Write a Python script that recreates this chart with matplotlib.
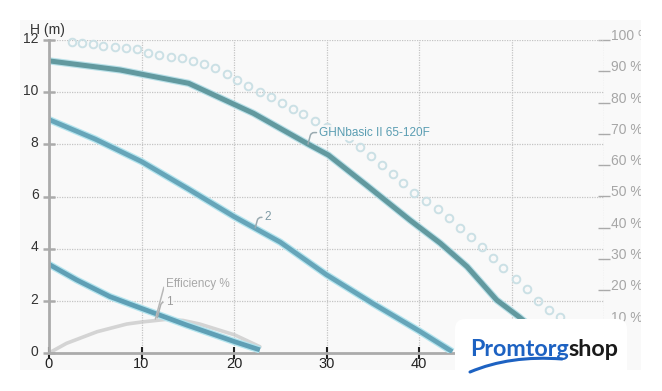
import numpy as np
import matplotlib
matplotlib.use("Agg")
import matplotlib.pyplot as plt
import matplotlib.patheffects as pe
import matplotlib.transforms as mtrans
from matplotlib.patches import Rectangle, FancyBboxPatch
from matplotlib.path import Path
from matplotlib.patches import PathPatch

plt.rcParams['font.family'] = ['Liberation Sans', 'DejaVu Sans']

# pump curve GHNbasic II 65-120F (Q in m3/h, H in m)
q_main = [0, 7.7, 10, 15.1, 22.1, 28.0, 30.2, 34.3, 39.0, 42.3, 45.2, 48.4, 50.8, 53.5]
h_main = [11.2, 10.85, 10.69, 10.34, 9.19, 8.01, 7.59, 6.44, 5.10, 4.21, 3.31, 2.03, 1.39, 0.6]

# speed 2
q_2 = [0, 5, 10, 15, 20, 25, 30, 35, 40, 43.6]
h_2 = [8.95, 8.2, 7.34, 6.3, 5.23, 4.25, 3.0, 1.9, 0.85, 0.05]

# speed 1
q_1 = [0, 3, 6.6, 10, 14.9, 20.1, 22.8]
h_1 = [3.4, 2.8, 2.16, 1.71, 1.07, 0.43, 0.12]

# efficiency (%)
q_eff = [0, 1.9, 5.2, 8.4, 10, 12.7, 14.5, 16.3, 20.1, 22.8]
eff = [0, 3.1, 6.8, 9.25, 9.9, 10.75, 10.4, 9.25, 5.75, 2.0]

# dotted max curve (one value per circle)
q_dots = [2.45, 3.54, 4.72, 5.87, 7.14, 8.32, 9.48, 10.73, 11.92, 13.19, 14.35, 15.6,
          16.76, 17.95, 19.21, 20.35, 21.55, 22.8, 23.97, 25.16, 26.35, 27.49, 28.76,
          30.02, 31.24, 32.46, 33.62, 34.78, 35.97, 37.16, 38.30, 39.49, 40.76, 42.02,
          43.24, 44.43, 45.62, 46.78, 47.97, 49.11, 50.49, 51.64, 52.83, 54.05, 55.24,
          56.4, 57.6]
h_dots = [11.94, 11.88, 11.85, 11.78, 11.72, 11.68, 11.64, 11.51, 11.43, 11.36, 11.30, 11.21,
          11.08, 10.91, 10.70, 10.47, 10.24, 10.02, 9.80, 9.60, 9.36, 9.15, 8.91,
          8.67, 8.44, 8.23, 7.91, 7.55, 7.21, 6.86, 6.53, 6.15, 5.83, 5.51,
          5.19, 4.80, 4.46, 4.08, 3.65, 3.25, 2.84, 2.44, 2.01, 1.65, 1.37,
          1.0, 0.6]

x_ticks = [0, 10, 20, 30, 40, 50, 60]
h_ticks = [0, 2, 4, 6, 8, 10, 12]
pct_ticks = [10, 20, 30, 40, 50, 60, 70, 80, 90, 100]

fig = plt.figure(figsize=(6.62, 3.91), dpi=100)
# light background panel
fig.patches.append(Rectangle((20/662, 21/391), 622/662, 350/391, transform=fig.transFigure,
                             facecolor='#f9f9f9', edgecolor='none', zorder=-5))

ax = fig.add_axes([49/662, 38/391, 555/662, 313/391])
ax.set_xlim(0, 60)
ax.set_ylim(0, 12)

# grid
for x in x_ticks[1:]:
    ax.axvline(x, color='#c4c4c4', lw=0.9, ls=(0, (1, 1)), zorder=1)
for y in h_ticks[1:]:
    ax.axhline(y, color='#c4c4c4', lw=0.9, ls=(0, (1, 1)), zorder=1)

ax2 = ax.twinx()
ax2.set_ylim(0, 100)
ax2.plot(q_eff, eff, color='#d4d4d4', lw=2.6, solid_capstyle='round', zorder=2)
ax2.set_zorder(-1)
ax.set_zorder(0)
ax.patch.set_visible(False)
ax2.patch.set_visible(False)

ax.plot(q_dots, h_dots, ls='none', marker='o', ms=5.5, mfc='none', mec='#cbe0e5', mew=1.4,
        zorder=2, clip_on=False)

glow = [pe.Stroke(linewidth=5.2, foreground='#b3e4ee'), pe.Normal()]
ax.plot(q_1, h_1, color='#5f9fb5', lw=3.4, path_effects=glow, zorder=3, solid_capstyle='butt')
ax.plot(q_2, h_2, color='#66a5b9', lw=3.4, path_effects=glow, zorder=3, solid_capstyle='butt')
ax.plot(q_main, h_main, color='#62999f', lw=3.6,
        path_effects=[pe.Stroke(linewidth=5.2, foreground='#b8e0e8'), pe.Normal()],
        zorder=3, solid_capstyle='butt')

# curve labels with leader lines
def leader(xy, xytext, text, color, tcolor):
    ax.annotate(text, xy=xy, xytext=xytext, textcoords='data', fontsize=8.5, color=tcolor,
                va='center', ha='left', zorder=4,
                bbox=dict(boxstyle='square,pad=0.1', fc='#f9f9f9', ec='none', alpha=0.85),
                arrowprops=dict(arrowstyle='-', color=color, lw=1.1, shrinkA=1, shrinkB=0,
                                connectionstyle='angle,angleA=0,angleB=75,rad=3'))

leader((28.0, 8.01), (29.2, 8.45), 'GHNbasic II 65-120F', '#9aaab0', '#5a9db2')
leader((22.3, 4.8), (23.3, 5.2), '2', '#9aaab0', '#7d9aa5')
leader((11.7, 1.35), (12.6, 1.95), '1', '#b0b0b0', '#9c9c9c')
leader((11.5, 1.3), (12.6, 2.65), 'Efficiency %', '#b8b8b8', '#a8a8a8')

# axes styling
for s in ['top', 'right']:
    ax.spines[s].set_visible(False)
    ax2.spines[s].set_visible(False)
ax2.spines['left'].set_visible(False)
ax2.spines['bottom'].set_visible(False)
ax.spines['left'].set_color('#ababab')
ax.spines['left'].set_linewidth(2)
ax.spines['bottom'].set_color('#ababab')
ax.spines['bottom'].set_linewidth(2)
ax.spines['left'].set_zorder(5)

ax.set_xticks(x_ticks[:-1])
ax.set_xticklabels([str(v) for v in x_ticks[:-1]])
ax.set_yticks(h_ticks)
ax.set_yticklabels([str(v) for v in h_ticks])
ax.tick_params(axis='x', direction='inout', length=8, width=1.5, color='#222222', labelsize=10.5,
               labelcolor='#222222', pad=-1)
ax.tick_params(axis='y', direction='inout', length=9, width=1.8, color='#ababab', labelsize=10,
               labelcolor='#333333', pad=3)
up = mtrans.ScaledTranslation(0, 2/72, fig.dpi_scale_trans)
for lbl in ax.get_yticklabels():
    lbl.set_transform(lbl.get_transform() + up)

ax2.set_yticks(pct_ticks)
ax2.set_yticklabels([f'{v} %' for v in pct_ticks])
ax2.tick_params(axis='y', direction='inout', length=8, width=1, color='#aaaaaa', labelsize=10,
                labelcolor='#a6a6a6', pad=1)
for lbl in ax2.get_yticklabels():
    lbl.set_va('baseline')

fig.text(30/662, 1 - 30/391, 'H (m)', fontsize=10, color='#333333', va='center', ha='left')

# mask the overflow on the right edge
fig.add_artist(Rectangle((641/662, 0), 21/662, 1, transform=fig.transFigure,
                         facecolor='white', edgecolor='none', zorder=6))

# logo
fig.add_artist(FancyBboxPatch((4.55, -0.3), 1.72, 1.02, boxstyle='round,pad=0,rounding_size=0.1',
                              transform=fig.dpi_scale_trans, facecolor='white', edgecolor='none',
                              zorder=7))
t1 = fig.text(4.70, 0.355, 'Promtorg', transform=fig.dpi_scale_trans, fontsize=16.8,
              fontweight='bold', family='Lato', color='#1d62c2', va='baseline', ha='left', zorder=8)
fig.canvas.draw()
bb = t1.get_window_extent()
fig.text(bb.x1 / 100, 0.355, 'shop', transform=fig.dpi_scale_trans, fontsize=16.8,
         fontweight='bold', family='Lato', color='#1a1a1a', va='baseline', ha='left', zorder=8)
sw = Path([(4.70, 0.19), (5.1, 0.36), (5.62, 0.32)], [Path.MOVETO, Path.CURVE3, Path.CURVE3])
fig.add_artist(PathPatch(sw, transform=fig.dpi_scale_trans, fc='none', ec='#1d62c2', lw=2.2,
                         capstyle='round', zorder=8))

fig.savefig('out.png', dpi=100)
